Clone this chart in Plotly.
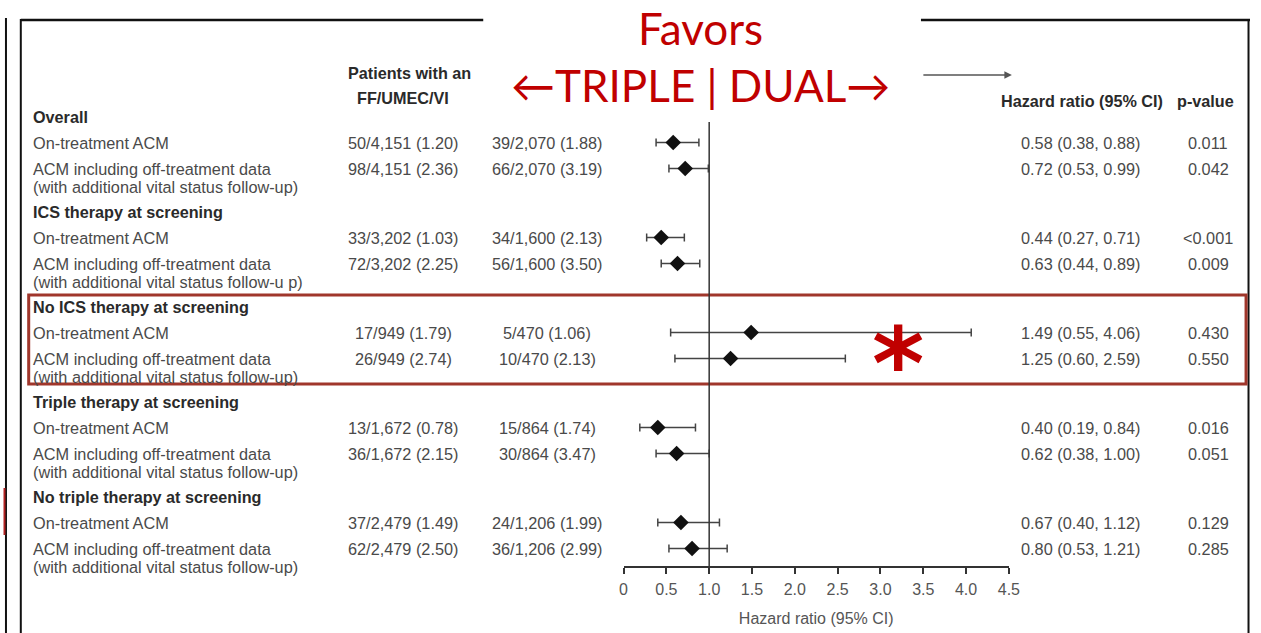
import plotly.graph_objects as go

W, H = 1261, 633

# ---- data -------------------------------------------------------------
groups = [
    "Overall",
    "ICS therapy at screening",
    "No ICS therapy at screening",
    "Triple therapy at screening",
    "No triple therapy at screening",
]
row_main = ["On-treatment ACM", "ACM including off-treatment data"]
row_notes = [
    "(with additional vital status follow-up)",
    "(with additional vital status follow-u p)",
    "(with additional vital status follow-up)",
    "(with additional vital status follow-up)",
    "(with additional vital status follow-up)",
]
ff_umec_vi_events = [
    "50/4,151 (1.20)", "98/4,151 (2.36)",
    "33/3,202 (1.03)", "72/3,202 (2.25)",
    "17/949 (1.79)", "26/949 (2.74)",
    "13/1,672 (0.78)", "36/1,672 (2.15)",
    "37/2,479 (1.49)", "62/2,479 (2.50)",
]
dual_events = [
    "39/2,070 (1.88)", "66/2,070 (3.19)",
    "34/1,600 (2.13)", "56/1,600 (3.50)",
    "5/470 (1.06)", "10/470 (2.13)",
    "15/864 (1.74)", "30/864 (3.47)",
    "24/1,206 (1.99)", "36/1,206 (2.99)",
]
hr = [0.58, 0.72, 0.44, 0.63, 1.49, 1.25, 0.40, 0.62, 0.67, 0.80]
hr_lo = [0.38, 0.53, 0.27, 0.44, 0.55, 0.60, 0.19, 0.38, 0.40, 0.53]
hr_hi = [0.88, 0.99, 0.71, 0.89, 4.06, 2.59, 0.84, 1.00, 1.12, 1.21]
p_values = ["0.011", "0.042", "<0.001", "0.009", "0.430",
            "0.550", "0.016", "0.051", "0.129", "0.285"]
x_ticks = [0, 0.5, 1.0, 1.5, 2.0, 2.5, 3.0, 3.5, 4.0, 4.5]
x_tick_text = ["0", "0.5", "1.0", "1.5", "2.0", "2.5", "3.0", "3.5", "4.0", "4.5"]

# ---- layout constants (pixels) ---------------------------------------
GROUP_TOP, GROUP_STEP = 117, 95
ROW_OFFSETS = (25.5, 51.5)
NOTE_GAP = 18
AXIS_Y = 567
COL_LABEL = 27
COL_FF = 404
COL_DUAL = 550
COL_HR = 1089
COL_P = 1219

FONT = "Liberation Sans, Arial, sans-serif"
TXT = "#4a4a4a"
HEAD = "#2a2a2a"
RED = "#C00000"
BOX_RED = "#A0362B"
BODY = 16.3


def px(x):
    return x / W


annotations = []


def text(x, y, s, anchor="left", size=BODY, color=TXT, bold=False, family=FONT):
    annotations.append(dict(
        x=px(x), y=y, xref="paper", yref="y", text=f"<b>{s}</b>" if bold else s,
        showarrow=False, xanchor=anchor, yanchor="middle",
        font=dict(family=family, size=size, color=color),
    ))


# row positions
row_y = []
for g, name in enumerate(groups):
    top = GROUP_TOP + g * GROUP_STEP
    text(COL_LABEL, top, name, bold=True, color=HEAD, size=16.2)
    for k, off in enumerate(ROW_OFFSETS):
        row_y.append(top + off)
        text(COL_LABEL, top + off, row_main[k])
    text(COL_LABEL, top + ROW_OFFSETS[1] + NOTE_GAP, row_notes[g])

for i, y in enumerate(row_y):
    text(COL_FF, y, ff_umec_vi_events[i], anchor="center")
    text(COL_DUAL, y, dual_events[i], anchor="center")
    text(COL_HR, y, f"{hr[i]:.2f} ({hr_lo[i]:.2f}, {hr_hi[i]:.2f})", anchor="center")
    text(COL_P, y, p_values[i], anchor="center")

# column headers
text(346, 73, "Patients with an", bold=True, color=HEAD, size=16.2)
text(COL_FF, 98, "FF/UMEC/VI", anchor="center", bold=True, color=HEAD, size=16.2)
text(1091, 101, "Hazard ratio (95% CI)", anchor="center", bold=True, color=HEAD, size=16.2)
text(1216, 101, "p-value", anchor="center", bold=True, color=HEAD, size=16.2)

# favours banner
text(705, 28, "Favors", anchor="center", size=44, color=RED, family="Lato, sans-serif")
text(705, 85, "\u2190TRIPLE | DUAL\u2192", anchor="center", size=44, color=RED,
     family="Lato, sans-serif")
text(905, 364, "*", anchor="center", size=100, color=RED, bold=True,
     family="DejaVu Sans, sans-serif")

# direction arrow
annotations.append(dict(
    x=px(1020), y=75, xref="paper", yref="y", ax=-90, ay=0, axref="pixel", ayref="pixel",
    showarrow=True, arrowhead=2, arrowsize=1, arrowwidth=1.5, arrowcolor="#555", text="",
))


def seg(x0, y0, x1, y1, color="#111", width=2.5):
    return dict(type="line", xref="paper", yref="y", x0=px(x0), x1=px(x1), y0=y0, y1=y1,
                line=dict(color=color, width=width))


shapes = [
    seg(17, 20, 485, 20),
    seg(928, 20, W, 20),
    seg(17, 19, 17, H, width=2),
    seg(1259.5, 19, 1259.5, H, width=2),
    seg(2, 18, 2, H, width=2),
    seg(0.5, 488, 0.5, 535, color="#B22222", width=2),
    dict(type="rect", xref="paper", yref="y", x0=px(25), x1=px(1257), y0=295, y1=384,
         line=dict(color=BOX_RED, width=3)),
    dict(type="line", xref="x", yref="y", x0=1, x1=1, y0=122, y1=AXIS_Y,
         line=dict(color="#333", width=1.5)),
]

err_plus = [h - m for h, m in zip(hr_hi, hr)]
err_minus = [m - l for m, l in zip(hr, hr_lo)]

fig = go.Figure(go.Scatter(
    x=hr, y=row_y, mode="markers",
    marker=dict(symbol="diamond", size=12, color="#111"),
    error_x=dict(type="data", symmetric=False, array=err_plus, arrayminus=err_minus,
                 color="#444", thickness=1.5, width=4),
    cliponaxis=False, hoverinfo="skip",
))

fig.update_layout(
    width=W, height=H, autosize=False, margin=dict(l=0, r=0, t=0, b=0, pad=0),
    paper_bgcolor="white", plot_bgcolor="white", showlegend=False,
    xaxis=dict(
        domain=[px(627), px(1017)], range=[0, 4.5], anchor="free", position=1 - AXIS_Y / H,
        showline=True, linecolor="#333", linewidth=1.5, ticks="outside", ticklen=6,
        tickwidth=1.5, tickcolor="#333", tickvals=x_ticks, ticktext=x_tick_text,
        tickfont=dict(family=FONT, size=16, color="#555"), showgrid=False, zeroline=False,
        ticklabelstandoff=2,
        title=dict(text="Hazard ratio (95% CI)", font=dict(family=FONT, size=16, color="#555")),
        fixedrange=True,
    ),
    yaxis=dict(range=[H, 0], domain=[0, 1], visible=False, fixedrange=True),
    annotations=annotations,
    shapes=shapes,
)

fig.write_html("out.html", config={"responsive": False, "displayModeBar": False})
